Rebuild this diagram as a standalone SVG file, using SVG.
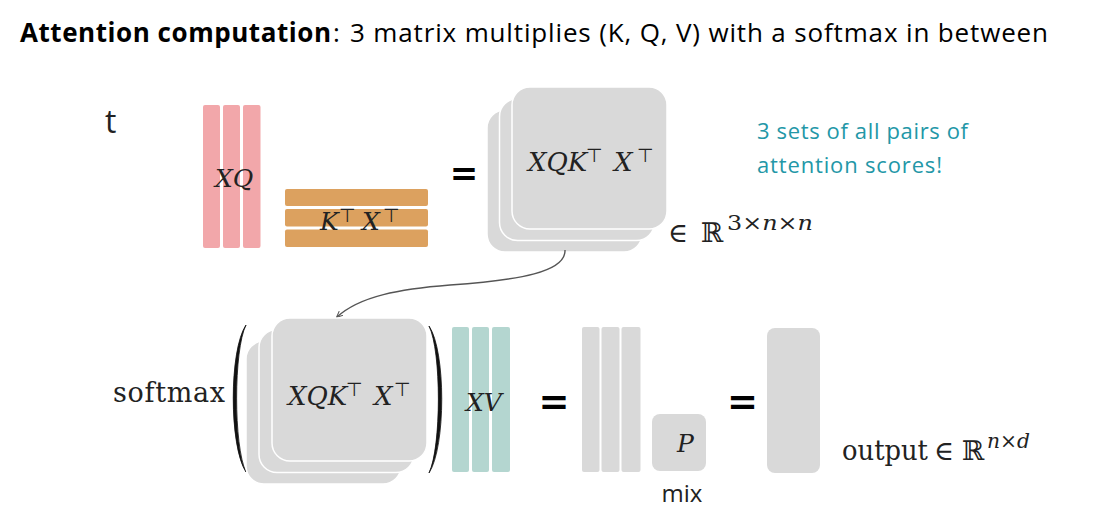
<svg xmlns="http://www.w3.org/2000/svg" width="1096" height="530" viewBox="0 0 1096 530">
<style>
.title{font-family:"Open Sans","Liberation Sans",sans-serif;font-size:26px;fill:#000}
.b{font-weight:bold}
.note{font-family:"Open Sans","Liberation Sans",sans-serif;font-size:22px;fill:#2397a7}
.lab{font-family:"Open Sans","Liberation Sans",sans-serif;fill:#222}
.m{font-family:"DejaVu Serif","Liberation Serif",serif;font-style:italic;font-size:25px;fill:#222}
.mb{font-family:"DejaVu Serif","Liberation Serif",serif;font-style:italic;font-size:26px;fill:#222}
.rm{font-family:"DejaVu Serif","Liberation Serif",serif;font-size:27px;fill:#222}
.up{font-family:"DejaVu Sans","Liberation Sans",sans-serif;font-size:19px;fill:#222}
.eq{font-family:"DejaVu Sans","Liberation Sans",sans-serif;font-weight:bold;fill:#000;text-anchor:middle}
.pink{fill:#f2a7aa}
.org{fill:#dca15f}
.teal{fill:#b4d6d0}
.gray{fill:#d9d9d9}
.sq{fill:#d9d9d9;stroke:#fff;stroke-width:1.5}
.paren{fill:#111;stroke:#111;stroke-width:0.8}
.conn{fill:none;stroke:#555;stroke-width:1.4}
</style>
<defs>
<marker id="ah" viewBox="0 0 10 10" refX="8" refY="5" markerWidth="5" markerHeight="5" orient="auto-start-reverse">
<path d="M0,1 L9,5 L0,9" fill="none" stroke="#555" stroke-width="1.5"/>
</marker>
</defs>
<rect x="0" y="0" width="1096" height="530" fill="#fff"/>

<g id="title">
<text class="title b" x="20" y="42" textLength="311" lengthAdjust="spacing">Attention computation</text>
<text class="title" x="333" y="42">:</text>
<text class="title" x="350" y="42" textLength="698" lengthAdjust="spacing">3 matrix multiplies (K, Q, V) with a softmax in between</text>
</g>

<g id="t-label"><text class="lab" x="105" y="133" font-size="32">t</text></g>

<g id="XQ">
<rect class="pink" x="203" y="105" width="17" height="143" rx="2"/>
<rect class="pink" x="223" y="105" width="17" height="143" rx="2"/>
<rect class="pink" x="243" y="105" width="17.5" height="143" rx="2"/>
<text class="m" x="215" y="187">XQ</text>
</g>

<g id="KTXT">
<rect class="org" x="285" y="189" width="143" height="17" rx="2"/>
<rect class="org" x="285" y="209" width="143" height="17.5" rx="2"/>
<rect class="org" x="285" y="229.5" width="143" height="17.5" rx="2"/>
<text class="m" x="320" y="230">K<tspan class="up" x="339" y="222">⊤</tspan><tspan x="362" y="230">X</tspan><tspan class="up" x="383" y="222">⊤</tspan></text>
</g>

<g id="eq1"><text class="eq" x="464" y="185" font-size="34">=</text></g>

<g id="scores">
<rect class="sq" x="487" y="110" width="155" height="142" rx="18"/>
<rect class="sq" x="499.5" y="98.5" width="155" height="142" rx="18"/>
<rect class="sq" x="512" y="87" width="155" height="142" rx="18"/>
<text class="mb" x="528" y="171">XQK<tspan class="up" x="586" y="162">⊤</tspan><tspan x="614" y="171">X</tspan><tspan class="up" x="637" y="162">⊤</tspan></text>
</g>

<g id="scores-dim">
<text class="rm" x="668" y="242">∈<tspan x="701">ℝ</tspan><tspan x="727" y="230" font-size="20" textLength="86" lengthAdjust="spacingAndGlyphs">3×<tspan font-style="italic">n</tspan>×<tspan font-style="italic">n</tspan></tspan></text>
</g>

<g id="note">
<text class="note" x="757" y="139" textLength="211" lengthAdjust="spacing">3 sets of all pairs of</text>
<text class="note" x="757" y="173" textLength="185" lengthAdjust="spacing">attention scores!</text>
</g>

<g id="connectors">
<path class="conn" d="M565,250 C566,272 520,280 450,285 C400,289 360,296 337,317" marker-end="url(#ah)"/>
</g>

<g id="softmax">
<text class="rm" x="113" y="402" textLength="112" lengthAdjust="spacing">softmax</text>
<path class="paren" d="M246,325 C229,350 229,446 246,472 C233.5,446 233.5,350 246,325 Z"/>
<path class="paren" d="M429,326 C446,351 446,447 429,473 C441.5,447 441.5,351 429,326 Z"/>
</g>

<g id="scores2">
<rect class="sq" x="246" y="341" width="155" height="143" rx="18"/>
<rect class="sq" x="259" y="329.5" width="155" height="143" rx="18"/>
<rect class="sq" x="272" y="318" width="155" height="143" rx="18"/>
<text class="mb" x="288" y="405">XQK<tspan class="up" x="346" y="396">⊤</tspan><tspan x="374" y="405">X</tspan><tspan class="up" x="394" y="396">⊤</tspan></text>
</g>

<g id="XV">
<rect class="teal" x="452" y="327" width="17" height="145" rx="2"/>
<rect class="teal" x="472" y="327" width="17" height="145" rx="2"/>
<rect class="teal" x="492" y="327" width="18" height="145" rx="2"/>
<text class="m" x="466" y="411">XV</text>
</g>

<g id="eq2"><text class="eq" x="554" y="414" font-size="37">=</text></g>

<g id="heads">
<rect class="gray" x="582" y="327" width="17.5" height="145" rx="2"/>
<rect class="gray" x="601.5" y="327" width="18" height="145" rx="2"/>
<rect class="gray" x="621.5" y="327" width="19" height="145" rx="2"/>
</g>

<g id="P">
<rect class="gray" x="652" y="414" width="54" height="57" rx="8"/>
<text class="m" x="677" y="452">P</text>
<text class="lab" x="682" y="502" font-size="24" text-anchor="middle">mix</text>
</g>

<g id="eq3"><text class="eq" x="742.5" y="414" font-size="37">=</text></g>

<g id="output">
<rect class="gray" x="767" y="328" width="53" height="145" rx="8"/>
<text class="rm" x="842" y="460" font-size="26"><tspan textLength="86" lengthAdjust="spacingAndGlyphs">output</tspan><tspan x="934">∈</tspan><tspan x="962">ℝ</tspan><tspan x="987" y="448" font-size="20" textLength="43" lengthAdjust="spacingAndGlyphs"><tspan font-style="italic">n</tspan>×<tspan font-style="italic">d</tspan></tspan></text>
</g>
</svg>
